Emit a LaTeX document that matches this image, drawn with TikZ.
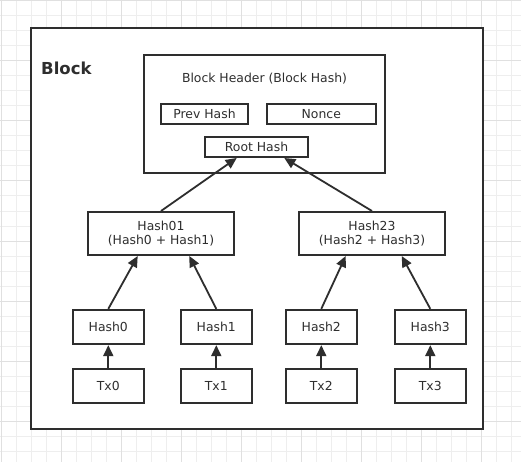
\documentclass[tikz,border=0pt]{standalone}
\usepackage{fontspec}
\setmainfont{DejaVu Sans}
\usetikzlibrary{arrows.meta}
\definecolor{ink}{HTML}{2E2E2E}
\definecolor{gridminor}{HTML}{EEEEEE}
\definecolor{gridmajor}{HTML}{E0E0E0}

\begin{document}
\begin{tikzpicture}[x=1pt,y=-1pt,>={Triangle[length=11pt,width=10pt]},text=ink,
                    font=\fontsize{12.4}{14.5}\selectfont,
                    box/.style={draw=ink,fill=white,line width=2pt,inner sep=0pt,align=center},
                    leaf/.style={box,minimum width=71.3pt,minimum height=34.3pt},
                    pair/.style={box,minimum width=146.6pt,minimum height=43pt},
                    field/.style={box,minimum height=20pt},
                    link/.style={draw=ink,line width=1.8pt,->}]
  \useasboundingbox (0,0) rectangle (521,462);
  \fill[white] (0,0) rectangle (521,462);
  % background grid
  \foreach \g in {1,16,...,511} \draw[gridminor,line width=1pt] (\g,0) -- (\g,462);
  \foreach \g in {1,16,...,451} \draw[gridminor,line width=1pt] (0,\g) -- (521,\g);
  \foreach \g in {1,61,...,481} \draw[gridmajor,line width=1pt] (\g,0) -- (\g,462);
  \foreach \g in {1,61,...,421} \draw[gridmajor,line width=1pt] (0,\g) -- (521,\g);
  % block frame
  \node[box,minimum width=452pt,minimum height=400.5pt] (blk) at (257,228.3) {};
  \node[anchor=west,inner sep=0pt,font=\fontsize{16.5}{18}\selectfont\bfseries] (blklabel) at (41,68) {Block};
  % header
  \node[box,minimum width=241.6pt,minimum height=118.3pt] (hdr) at (264.5,113.8) {};
  \node (hdrlabel) at (264.5,79) {Block Header (Block Hash)};
  \node[field,minimum width=87.6pt] (prev) at (204.5,114) {Prev Hash};
  \node[field,minimum width=109.3pt] (nonce) at (321.3,114) {Nonce};
  \node[field,minimum width=102.4pt] (root) at (256.5,147) {Root Hash};
  % merkle tree
  \node[pair] (h01) at (161,233.5) {Hash01\\(Hash0 + Hash1)};
  \node[pair] (h23) at (372,233.5) {Hash23\\(Hash2 + Hash3)};
  \node[leaf] (h0) at (108.3,327) {Hash0};
  \node[leaf] (h1) at (216.3,327) {Hash1};
  \node[leaf] (h2) at (321.3,327) {Hash2};
  \node[leaf] (h3) at (430.3,327) {Hash3};
  \node[leaf] (tx0) at (108.3,385.7) {Tx0};
  \node[leaf] (tx1) at (216.3,385.7) {Tx1};
  \node[leaf] (tx2) at (321.3,385.7) {Tx2};
  \node[leaf] (tx3) at (430.3,385.7) {Tx3};
  % links
  \draw[link] (tx0) -- (h0);
  \draw[link] (tx1) -- (h1);
  \draw[link] (tx2) -- (h2);
  \draw[link] (tx3) -- (h3);
  \draw[link] (h0.north) -- ([xshift=-23.3pt]h01.south);
  \draw[link] (h1.north) -- ([xshift=28.3pt]h01.south);
  \draw[link] (h2.north) -- ([xshift=-26.3pt]h23.south);
  \draw[link] (h3.north) -- ([xshift=29.7pt]h23.south);
  \draw[link] (h01.north) -- ([xshift=-19.8pt]root.south);
  \draw[link] (h23.north) -- ([xshift=27.8pt]root.south);
\end{tikzpicture}
\end{document}
